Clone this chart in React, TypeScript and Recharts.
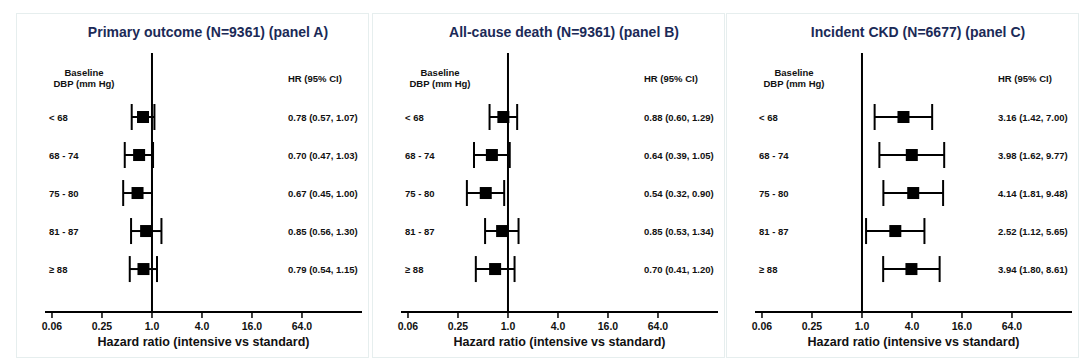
import { ScatterChart, Scatter, XAxis, YAxis, ReferenceLine, ErrorBar } from 'recharts';

const groups = ['< 68', '68 - 74', '75 - 80', '81 - 87', '\u2265 88'];
const rows = [0, 1, 2, 3, 4];

const primaryHR = [0.78, 0.7, 0.67, 0.85, 0.79];
const primaryLow = [0.57, 0.47, 0.45, 0.56, 0.54];
const primaryHigh = [1.07, 1.03, 1.0, 1.3, 1.15];

const deathHR = [0.88, 0.64, 0.54, 0.85, 0.7];
const deathLow = [0.6, 0.39, 0.32, 0.53, 0.41];
const deathHigh = [1.29, 1.05, 0.9, 1.34, 1.2];

const ckdHR = [3.16, 3.98, 4.14, 2.52, 3.94];
const ckdLow = [1.42, 1.62, 1.81, 1.12, 1.8];
const ckdHigh = [7.0, 9.77, 9.48, 5.65, 8.61];

const xTicks = [0.0625, 0.25, 1, 4, 16, 64];
const xTickLabels = ['0.06', '0.25', '1.0', '4.0', '16.0', '64.0'];

const FONT = "'Liberation Sans', Arial, sans-serif";
const W = 351;
const H = 343;
const Y_DOMAIN = [-1.684, 5.13];

const RowLabel = ({ y, payload }: any) => (
  <text x={32} y={y} dy={3.5} fontSize={9.5} fontWeight={700} fill="#111" fontFamily={FONT}>
    {groups[payload.value]}
  </text>
);

const Square = ({ cx, cy }: any) => <rect x={cx - 6} y={cy - 6} width={12} height={12} fill="#000" />;

function Panel({ left, title, hr, low, high }: any) {
  const data = rows.map((r) => ({
    row: r,
    hr: hr[r],
    err: [hr[r] - low[r], high[r] - hr[r]],
  }));
  const hrText = rows.map((r) => `${hr[r].toFixed(2)} (${low[r].toFixed(2)}, ${high[r].toFixed(2)})`);

  const HrLabel = ({ y, payload }: any) => (
    <text x={271} y={y} dy={3.5} fontSize={9.5} fontWeight={700} fill="#111" fontFamily={FONT}>
      {hrText[payload.value]}
    </text>
  );

  return (
    <div
      style={{
        position: 'absolute',
        left,
        top: 13,
        width: W,
        height: H,
        border: '1px solid #e6eeee',
        fontFamily: FONT,
      }}
    >
      <div
        style={{
          position: 'absolute',
          left: 191,
          top: 10,
          transform: 'translateX(-50%)',
          whiteSpace: 'nowrap',
          fontSize: 14,
          fontWeight: 700,
          color: '#1b2a57',
        }}
      >
        {title}
      </div>
      <div
        style={{
          position: 'absolute',
          left: 17,
          top: 53,
          width: 100,
          textAlign: 'center',
          fontSize: 9.5,
          fontWeight: 700,
          lineHeight: '11px',
          color: '#111',
        }}
      >
        Baseline
        <br />
        DBP (mm Hg)
      </div>
      <div
        style={{
          position: 'absolute',
          left: 271,
          top: 59,
          fontSize: 9.5,
          fontWeight: 700,
          color: '#111',
        }}
      >
        HR (95% CI)
      </div>
      <div style={{ position: 'absolute', left: 0, top: 0 }}>
        <ScatterChart width={W} height={H} margin={{ top: 39, right: 5, bottom: 0, left: 27 }}>
          <XAxis
            type="number"
            dataKey="hr"
            scale="log"
            domain={[0.0515, 338]}
            allowDataOverflow
            ticks={xTicks}
            interval={0}
            tickFormatter={(v: number) => xTickLabels[xTicks.indexOf(v)]}
            height={45}
            tickSize={6}
            tickMargin={5}
            axisLine={{ stroke: '#000', strokeWidth: 2 }}
            tickLine={{ stroke: '#000', strokeWidth: 1.5 }}
            tick={{ fontSize: 10.5, fontWeight: 700, fill: '#111', fontFamily: FONT }}
            label={{
              value: 'Hazard ratio (intensive vs standard)',
              position: 'insideBottom',
              offset: 11,
              fontSize: 12.5,
              fontWeight: 700,
              fill: '#111',
              fontFamily: FONT,
            }}
          />
          <YAxis
            type="number"
            dataKey="row"
            domain={Y_DOMAIN}
            reversed
            ticks={rows}
            interval={0}
            width={1}
            axisLine={false}
            tickLine={false}
            tick={<RowLabel />}
            allowDataOverflow
          />
          <YAxis
            yAxisId="hr"
            orientation="right"
            type="number"
            domain={Y_DOMAIN}
            reversed
            ticks={rows}
            interval={0}
            width={1}
            axisLine={false}
            tickLine={false}
            tick={<HrLabel />}
            allowDataOverflow
          />
          <ReferenceLine x={1} stroke="#000" strokeWidth={2} />
          <Scatter data={data} shape={<Square />} isAnimationActive={false}>
            <ErrorBar dataKey="err" direction="x" width={13} stroke="#000" strokeWidth={2} />
          </Scatter>
        </ScatterChart>
      </div>
    </div>
  );
}

export default function App() {
  return (
    <div style={{ position: 'absolute', left: 0, top: 0, width: 1083, height: 364, background: '#fff' }}>
      <Panel left={16} title="Primary outcome (N=9361) (panel A)" hr={primaryHR} low={primaryLow} high={primaryHigh} />
      <Panel left={372} title="All-cause death (N=9361) (panel B)" hr={deathHR} low={deathLow} high={deathHigh} />
      <Panel left={726} title="Incident CKD (N=6677) (panel C)" hr={ckdHR} low={ckdLow} high={ckdHigh} />
    </div>
  );
}
